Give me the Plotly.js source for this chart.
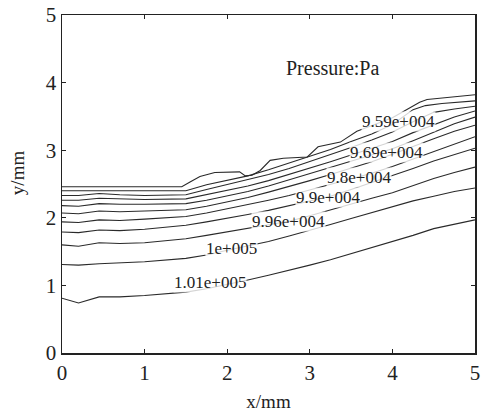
<!DOCTYPE html>
<html>
<head>
<meta charset="utf-8">
<script src="https://cdn.plot.ly/plotly-3.0.1.min.js"></script>
<style>
html,body{margin:0;padding:0;background:#fff;}
#chart{width:481px;height:414px;}
</style>
</head>
<body>
<div id="chart"></div>
<script>
// Shared x grid (mm) for the smoother contour lines
const xGrid = [0, 0.2, 0.45, 0.7, 1, 1.5, 1.75, 2, 2.25, 2.5, 2.75, 3, 3.25, 3.5, 3.75, 4, 4.25, 4.5, 4.75, 5];

// Top two contour lines have their own sampling (stepped shape)
const line1X = [0, 1.45, 1.55, 1.67, 1.85, 2.15, 2.22, 2.3, 2.4, 2.52, 2.68, 2.97, 3.1, 3.37, 3.57, 3.7, 4.0, 4.33, 4.42, 5];
const line1Y = [2.46, 2.46, 2.53, 2.61, 2.67, 2.68, 2.62, 2.63, 2.70, 2.85, 2.88, 2.90, 3.05, 3.12, 3.28, 3.34, 3.48, 3.71, 3.75, 3.82];
const line2X = [0, 1.5, 1.75, 2.0, 2.25, 2.5, 2.75, 3.0, 3.25, 3.5, 3.75, 4.0, 4.25, 4.4, 4.6, 5];
const line2Y = [2.40, 2.40, 2.49, 2.56, 2.62, 2.71, 2.81, 2.91, 3.01, 3.13, 3.24, 3.38, 3.60, 3.66, 3.69, 3.73];

// Remaining contour lines (top to bottom) on xGrid
const line3Y  = [2.33, 2.33, 2.36, 2.34, 2.33, 2.34, 2.42, 2.49, 2.56, 2.64, 2.73, 2.83, 2.93, 3.04, 3.15, 3.27, 3.42, 3.56, 3.61, 3.65];
const line4Y  = [2.26, 2.26, 2.29, 2.28, 2.27, 2.28, 2.34, 2.40, 2.47, 2.55, 2.64, 2.73, 2.83, 2.93, 3.03, 3.13, 3.26, 3.38, 3.49, 3.58];
const line5Y  = [2.18, 2.17, 2.21, 2.20, 2.20, 2.21, 2.26, 2.32, 2.39, 2.47, 2.56, 2.65, 2.74, 2.83, 2.92, 3.02, 3.14, 3.27, 3.39, 3.49];
const line6Y  = [2.07, 2.06, 2.10, 2.09, 2.10, 2.12, 2.17, 2.23, 2.30, 2.38, 2.46, 2.55, 2.64, 2.73, 2.83, 2.94, 3.06, 3.17, 3.28, 3.37];
const line7Y  = [1.94, 1.93, 1.97, 1.96, 1.98, 2.02, 2.07, 2.13, 2.19, 2.26, 2.33, 2.41, 2.49, 2.57, 2.66, 2.76, 2.87, 2.98, 3.10, 3.20];
const line8Y  = [1.79, 1.78, 1.82, 1.81, 1.83, 1.89, 1.94, 1.99, 2.05, 2.11, 2.18, 2.25, 2.32, 2.42, 2.52, 2.62, 2.73, 2.84, 2.94, 3.03];
const line9Y  = [1.60, 1.58, 1.63, 1.62, 1.63, 1.69, 1.74, 1.79, 1.84, 1.89, 1.95, 2.03, 2.12, 2.20, 2.29, 2.37, 2.48, 2.58, 2.67, 2.75];
const line10Y = [1.31, 1.30, 1.32, 1.33, 1.35, 1.40, 1.45, 1.52, 1.58, 1.65, 1.73, 1.81, 1.90, 1.99, 2.08, 2.17, 2.25, 2.32, 2.39, 2.44];
const line11Y = [0.81, 0.74, 0.83, 0.83, 0.85, 0.90, 0.95, 1.01, 1.08, 1.15, 1.22, 1.30, 1.38, 1.47, 1.56, 1.64, 1.74, 1.84, 1.91, 1.97];

// Contour labels
const labelText = ["9.59e+004", "9.69e+004", "9.8e+004", "9.9e+004", "9.96e+004", "1e+005", "1.01e+005"];
const labelX    = [4.07, 3.93, 3.59, 3.22, 2.74, 2.05, 1.79];
const labelY    = [3.42, 2.97, 2.59, 2.30, 1.94, 1.55, 1.04];

const tickVals = [0, 1, 2, 3, 4, 5];

const serif = 'Liberation Serif';
const lineStyle = {color: '#2a2a2a', width: 1.1};
const series = [
  [line1X, line1Y], [line2X, line2Y],
  [xGrid, line3Y], [xGrid, line4Y], [xGrid, line5Y], [xGrid, line6Y], [xGrid, line7Y],
  [xGrid, line8Y], [xGrid, line9Y], [xGrid, line10Y], [xGrid, line11Y]
];
const traces = series.map(s => ({
  x: s[0], y: s[1], type: 'scatter', mode: 'lines', line: lineStyle,
  hoverinfo: 'skip', showlegend: false
}));

// Inline contour labels: white box breaks the line beneath, like clabel
const annotations = labelText.map((t, i) => ({
  x: labelX[i], y: labelY[i], xref: 'x', yref: 'y', text: t, showarrow: false,
  font: {family: serif, size: 17, color: '#222'}, bgcolor: 'rgba(255,255,255,0.8)',
  borderpad: 0
}));
annotations.push({
  x: 3.27, y: 4.22, xref: 'x', yref: 'y', text: 'Pressure:Pa', showarrow: false,
  font: {family: serif, size: 20, color: '#222'}
});
// y-axis title placed where the reference has it
annotations.push({
  x: -0.109, y: 0.535, xref: 'paper', yref: 'paper', text: 'y/mm', showarrow: false,
  textangle: -90, xanchor: 'center', yanchor: 'middle',
  font: {family: serif, size: 19, color: '#222'}
});

const axisCommon = {
  range: [0, 5], tickvals: tickVals, ticktext: tickVals.map(String),
  ticks: 'inside', ticklen: 4, tickwidth: 1.2, tickcolor: '#222',
  showline: true, linecolor: '#222', linewidth: 1.5, mirror: 'ticks',
  showgrid: false, zeroline: false,
  tickfont: {family: serif, size: 21, color: '#222'}
};

const layout = {
  width: 481, height: 414,
  margin: {l: 62, r: 6, t: 15, b: 61},
  paper_bgcolor: '#fff', plot_bgcolor: '#fff',
  showlegend: false,
  font: {family: serif, color: '#222'},
  xaxis: Object.assign({}, axisCommon, {
    title: {text: 'x/mm', font: {family: serif, size: 19, color: '#222'}, standoff: 11}
  }),
  yaxis: Object.assign({}, axisCommon),
  annotations: annotations
};

Plotly.newPlot('chart', traces, layout, {displayModeBar: false, staticPlot: true});
</script>
</body>
</html>
